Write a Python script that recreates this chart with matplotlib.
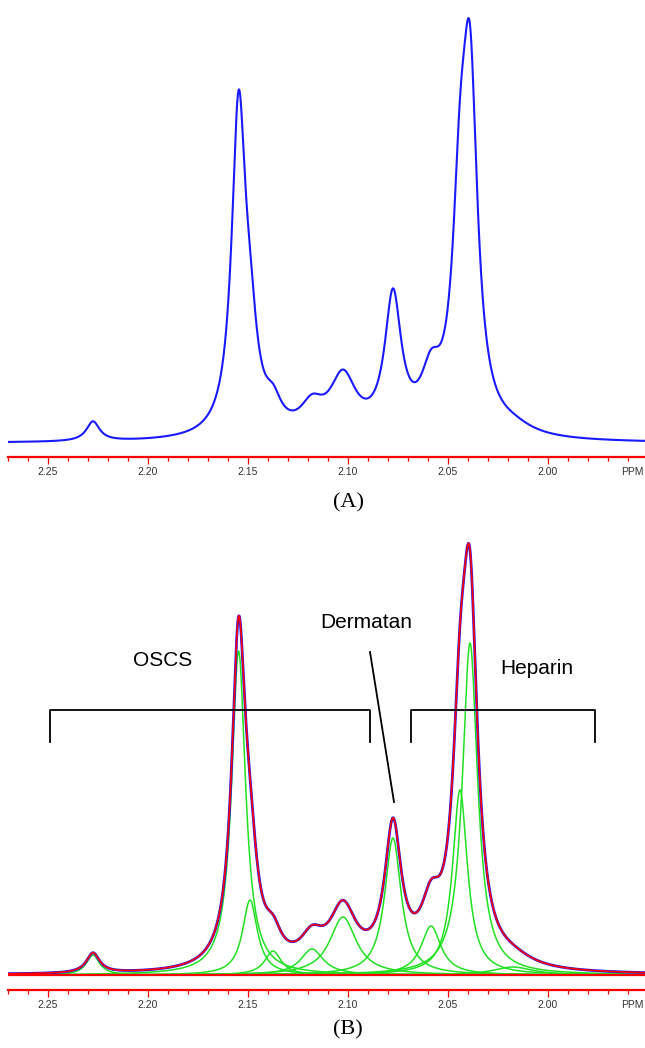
import matplotlib
matplotlib.use('Agg')
import matplotlib.pyplot as plt
import numpy as np

plt.rcParams['font.family'] = ['Liberation Sans', 'DejaVu Sans']

# ── Fitted Lorentzian components (ppm centre, height, half width) ──
peak_ppm = [2.2275, 2.1547, 2.149, 2.1375, 2.118, 2.1025, 2.0775, 2.0585, 2.044, 2.039, 2.0175]
peak_height = [20, 324, 75, 24, 26, 58, 137, 49, 185, 332, 8]
peak_hwhm = [0.004, 0.0042, 0.0045, 0.005, 0.007, 0.008, 0.005, 0.006, 0.0045, 0.0046, 0.012]

# group brackets in panel B (ppm from, ppm to)
oscs_range = [2.249, 2.089]
heparin_range = [2.0683, 1.9767]

major_ticks = [2.25, 2.20, 2.15, 2.10, 2.05, 2.00]
major_labels = ['2.25', '2.20', '2.15', '2.10', '2.05', '2.00']

BLUE = '#1a1aff'
RED = '#ff0000'
GREEN = '#22e022'
TICKTXT = '#333333'

ppm = np.linspace(2.27, 1.9515, 2500)
comps = [h / (1 + ((ppm - c) / w) ** 2) for c, h, w in zip(peak_ppm, peak_height, peak_hwhm)]
total = np.sum(comps, axis=0)

W, H = 645, 1048
fig = plt.figure(figsize=(W / 100, H / 100), dpi=100)
axA = fig.add_axes([8 / W, (H - 457) / H, 637 / W, 457 / H])
axB = fig.add_axes([8 / W, (H - 990) / H, 637 / W, 460 / H])


def style_axis(ax):
    ax.set_xlim(2.27, 1.9515)
    for s in ['top', 'left', 'right']:
        ax.spines[s].set_visible(False)
    ax.spines['bottom'].set_color(RED)
    ax.spines['bottom'].set_linewidth(1.6)
    ax.set_yticks([])
    ax.set_xticks(major_ticks)
    ax.set_xticklabels(major_labels)
    ax.set_xticks(np.arange(1.96, 2.275, 0.01), minor=True)
    ax.tick_params(axis='x', which='major', direction='out', length=5, width=0.9,
                   color=RED, labelsize=7.5, labelcolor=TICKTXT, pad=2)
    ax.tick_params(axis='x', which='minor', direction='out', length=3, width=0.9, color=RED)
    ax.annotate('PPM', xy=(1.958, 0), xycoords=('data', 'axes fraction'),
                xytext=(0, -7), textcoords='offset points', ha='center', va='top',
                fontsize=7.5, color=TICKTXT, annotation_clip=False)


# ── Panel A: measured spectrum ──
axA.plot(ppm, total, color=BLUE, lw=1.5)
axA.set_ylim(-14, 450)
style_axis(axA)

# ── Panel B: spectrum, fit and components ──
for c in comps:
    axB.plot(ppm, c, color=GREEN, lw=1.1)
axB.plot(ppm, total, color=BLUE, lw=2.0)
axB.plot(ppm, total, color=RED, lw=1.2)
axB.axhline(0, color=RED, lw=1.6)
axB.set_ylim(-15, 445)
style_axis(axB)

bk = dict(color='black', lw=1.3)
for r in (oscs_range, heparin_range):
    axB.plot([r[0], r[0], r[1], r[1]], [233, 265, 265, 233], **bk)
axB.plot([2.089, 2.077], [323, 173], **bk)

axB.text(2.1928, 315, 'OSCS', ha='center', va='center', fontsize=15)
axB.text(2.091, 352, 'Dermatan', ha='center', va='center', fontsize=15)
axB.text(2.0055, 307, 'Heparin', ha='center', va='center', fontsize=15)

fig.text(348 / W, 1 - 503 / H, '(A)', ha='center', va='center', fontsize=16,
         family=['Liberation Serif', 'DejaVu Serif'])
fig.text(348 / W, 1 - 1030 / H, '(B)', ha='center', va='center', fontsize=16,
         family=['Liberation Serif', 'DejaVu Serif'])

fig.savefig('out.png', dpi=100, facecolor='white')
